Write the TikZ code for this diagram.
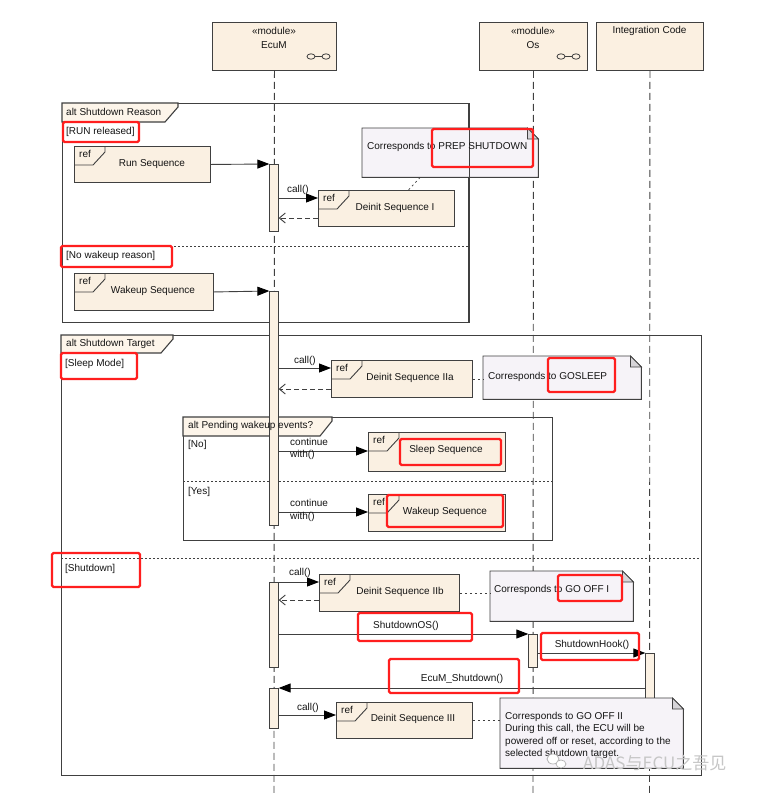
\documentclass[tikz,border=0pt]{standalone}
\usepackage{fontspec}
\setmainfont{Liberation Sans}
\newfontfamily\cjk{Noto Sans CJK SC}
\usetikzlibrary{arrows.meta}
\definecolor{headC}{HTML}{FBF0E1}
\definecolor{refC}{HTML}{FAF0E2}
\definecolor{barC}{HTML}{FBF1E3}
\definecolor{tabC}{HTML}{FDF5EA}
\definecolor{noteC}{HTML}{F6F3F8}
\definecolor{foldC}{HTML}{D6D4D8}
\definecolor{lineC}{HTML}{404040}
\definecolor{hlC}{HTML}{FF1E1E}
\definecolor{txtC}{HTML}{141414}
\newcommand{\drawnote}[1]{%
  \filldraw[draw=lineC, fill=noteC, line width=0.9pt] (#1.south west) -- (#1.north west) -- ([xshift=-11pt]#1.north east) -- ([yshift=-11pt]#1.north east) -- (#1.south east) -- cycle;
  \filldraw[draw=lineC, fill=foldC, line width=0.8pt] ([xshift=-11pt]#1.north east) -- ([xshift=-11pt,yshift=-11pt]#1.north east) -- ([yshift=-11pt]#1.north east) -- cycle;}
\newcommand{\reftab}[1]{%
  \draw[draw=lineC, line width=0.9pt] (#1.north west) ++(31,0) -- ++(0,6) -- ++(-12,13) -- ++(-19,0);
  \node[lt] at ([xshift=5pt,yshift=-8pt]#1.north west) {ref};}
\begin{document}
\begin{tikzpicture}[x=1pt,y=-1pt,
 txt/.style={font=\fontsize{10}{12.5}\selectfont, inner sep=0pt, text=txtC},
 lt/.style={txt, anchor=west},
 head/.style={draw=lineC, fill=headC, line width=0.9pt, anchor=north west, inner sep=0pt},
 refbox/.style={draw=lineC, fill=refC, line width=0.9pt, anchor=north west, inner sep=0pt},
 bar/.style={draw=lineC, fill=barC, line width=0.8pt, minimum width=8.5pt, anchor=north, inner sep=0pt},
 notebox/.style={anchor=north west, inner sep=0pt},
 framebox/.style={draw=lineC, line width=1.1pt, anchor=north west, inner sep=0pt},
 tab/.style={draw=lineC, fill=tabC, line width=1.1pt},
 lifeline/.style={draw=lineC, line width=0.9pt, dash pattern=on 7pt off 4pt},
 sep/.style={draw=lineC, line width=0.9pt, dash pattern=on 2pt off 2pt},
 msg/.style={draw=lineC, line width=0.9pt, -{Triangle[length=12pt,width=9pt,fill=black,color=black]}},
 ret/.style={draw=lineC, line width=0.9pt, dash pattern=on 5pt off 3pt, -{Straight Barb[length=6pt,width=10pt]}},
 dotc/.style={draw=lineC, line width=0.8pt, dash pattern=on 2pt off 3pt},
 hl/.style={draw=hlC, line width=2.4pt, rounded corners=1.5pt}]
\useasboundingbox (0,0) rectangle (769,796);
\fill[white] (0,0) rectangle (769,796);

% frames
\node[framebox, minimum width=406pt, minimum height=219pt] (fr1) at (62,103) {};
\filldraw[tab] (fr1.north west) -- ++(116,0) -- ++(0,4) -- ++(-13,15) -- ++(-103,0) -- cycle;
\draw[sep] (62,246) -- (468,246);
\node[framebox, minimum width=640pt, minimum height=440pt] (fr2) at (61,335) {};
\filldraw[tab] (fr2.north west) -- ++(112,0) -- ++(0,4) -- ++(-12,14) -- ++(-100,0) -- cycle;
\draw[sep] (61,558) -- (701,558);
\node[framebox, minimum width=369pt, minimum height=123pt] (fr3) at (183,417) {};
\filldraw[tab] (fr3.north west) -- ++(149,0) -- ++(0,4) -- ++(-12,15) -- ++(-137,0) -- cycle;
\draw[sep] (183,481) -- (552,481);

% lifelines
\node[head, minimum width=124pt, minimum height=48pt] (ecum) at (212,22) {};
\node[head, minimum width=108pt, minimum height=48pt] (os) at (479,22) {};
\node[head, minimum width=107pt, minimum height=48pt] (ic) at (596,22) {};
\coordinate (ecumEnd) at (274,796);
\coordinate (osEnd) at (533,796);
\coordinate (icEnd) at (649.5,796);
\draw[lifeline] (ecum.south) -- (ecumEnd);
\draw[lifeline] (os.south) -- (osEnd);
\draw[lifeline] (ic.south) -- (icEnd);
\node[txt] (ecumS) at (274,31) {«module»};
\node[txt] (ecumN) at (274,45) {EcuM};
\node[txt] (osS) at (533,31) {«module»};
\node[txt] (osN) at (533,45) {Os};
\node[txt] (icN) at (649.5,31) {Integration Code};
\draw[lineC, line width=0.8pt] (311,56.5) ellipse (4 and 2.7) (326,56.5) ellipse (4 and 2.7) (315,56.5) -- (322,56.5);
\draw[lineC, line width=0.8pt] (561,56.5) ellipse (4 and 2.7) (576,56.5) ellipse (4 and 2.7) (565,56.5) -- (572,56.5);

% activation bars
\node[bar, minimum height=67pt] (bar1) at (274,164) {};
\node[bar, minimum height=234pt] (bar2) at (274,291) {};
\node[bar, minimum height=85pt] (bar3) at (274,582) {};
\node[bar, minimum height=40pt] (bar4) at (274,688) {};
\node[bar, minimum height=33pt] (osbar) at (533,634) {};
\node[bar, minimum height=90pt] (icbar) at (650,653) {};

% ref boxes
\node[refbox, minimum width=136pt, minimum height=36pt] (runseq) at (74,146) {};
\node[refbox, minimum width=136pt, minimum height=36pt] (d1) at (318,190) {};
\node[refbox, minimum width=139pt, minimum height=37pt] (wakeseq) at (74,273) {};
\node[refbox, minimum width=141pt, minimum height=37pt] (d2a) at (331,360) {};
\node[refbox, minimum width=137pt, minimum height=39pt] (sleep) at (368,432) {};
\node[refbox, minimum width=137pt, minimum height=37pt] (wake2) at (368,494) {};
\node[refbox, minimum width=140pt, minimum height=37pt] (d2b) at (319,574) {};
\node[refbox, minimum width=136pt, minimum height=36pt] (d3) at (336,702) {};
\reftab{runseq}\reftab{d1}\reftab{wakeseq}\reftab{d2a}\reftab{sleep}\reftab{wake2}\reftab{d2b}\reftab{d3}
\node[txt] (runseqT) at (152,164) {Run Sequence};
\node[txt] (d1T) at (395,208) {Deinit Sequence I};
\node[txt] (wakeseqT) at (153,291) {Wakeup Sequence};
\node[txt] (d2aT) at (410,378) {Deinit Sequence IIa};
\node[txt] (sleepT) at (446,450) {Sleep Sequence};
\node[txt] (wake2T) at (445,512) {Wakeup Sequence};
\node[txt] (d2bT) at (400,592) {Deinit Sequence IIb};
\node[txt] (d3T) at (413,719) {Deinit Sequence III};

% notes
\node[notebox, minimum width=176pt, minimum height=49pt] (note1) at (362,128) {};
\node[notebox, minimum width=158pt, minimum height=43pt] (note2) at (483,356) {};
\node[notebox, minimum width=143pt, minimum height=50pt] (note3) at (490,571) {};
\node[notebox, minimum width=183pt, minimum height=70pt] (note4) at (500,698) {};
\drawnote{note1}\drawnote{note2}\drawnote{note3}\drawnote{note4}
\draw[lineC, line width=1.1pt] (fr1.north east) -- (fr1.south east);
\node[lt] (note1T) at (367,147) {Corresponds to PREP SHUTDOWN};
\node[lt] (note2T) at (488,377) {Corresponds to GOSLEEP};
\node[lt] (note3T) at (494,590) {Corresponds to GO OFF I};
\node[txt, anchor=north west, align=left] (note4T) at (505,712) {Corresponds to GO OFF II\\During this call, the ECU will be\\powered off or reset, according to the\\selected shutdown target.};

% connectors
\draw[msg] (runseq.east) -- (bar1.north west);
\draw[msg] (bar1.east |- 0,198) -- (d1.west |- 0,198);
\draw[ret] (d1.west |- 0,218) -- (bar1.east |- 0,218);
\draw[dotc] ([xshift=-30pt]note1.south) -- ([xshift=22pt]d1.north);
\draw[msg] (wakeseq.east) -- (bar2.north west);
\draw[msg] (bar2.east |- 0,368) -- (d2a.west |- 0,368);
\draw[ret] (d2a.west |- 0,389) -- (bar2.east |- 0,389);
\draw[dotc] (d2a.east) -- (d2a.east -| note2.west);
\draw[msg] (bar2.east |- 0,451) -- (sleep.west |- 0,451);
\draw[msg] (bar2.east |- 0,512) -- (wake2.west |- 0,512);
\draw[msg] (bar3.east |- 0,582) -- (d2b.west |- 0,582);
\draw[ret] (d2b.west |- 0,600) -- (bar3.east |- 0,600);
\draw[dotc] (d2b.east) -- (d2b.east -| note3.west);
\draw[msg] (bar3.east |- osbar.north) -- (osbar.north west);
\draw[msg] (osbar.east |- icbar.north) -- (icbar.north west);
\draw[msg] (icbar.west |- bar4.north) -- (bar4.north east);
\draw[msg] (bar4.east |- 0,715) -- (d3.west |- 0,715);
\draw[dotc] (d3.east) -- (d3.east -| note4.west);

% labels
\node[lt] (t1) at (66,112) {alt Shutdown Reason};
\node[lt] (t2) at (66,131.5) {[RUN released]};
\node[lt] (t3) at (66,256) {[No wakeup reason]};
\node[lt] (t4) at (66,343.5) {alt Shutdown Target};
\node[lt] (t5) at (65,364) {[Sleep Mode]};
\node[lt] (t6) at (188,426) {alt Pending wakeup events?};
\node[lt] (t7) at (188,445) {[No]};
\node[lt] (t8) at (188,492) {[Yes]};
\node[lt] (t9) at (65,569) {[Shutdown]};
\node[txt] (c1) at (298,190) {call()};
\node[txt] (c2) at (305,361) {call()};
\node[txt] (c3) at (300,573) {call()};
\node[txt] (c4) at (308,708) {call()};
\node[txt, anchor=west, align=left] (cw1) at (290,449) {continue\\with()};
\node[txt, anchor=west, align=left] (cw2) at (290,510.5) {continue\\with()};
\node[txt] (m1) at (406,626) {ShutdownOS()};
\node[txt] (m2) at (592,645) {ShutdownHook()};
\node[txt] (m3) at (462,679) {EcuM\_Shutdown()};

% highlight boxes
\draw[hl] (63,122) rectangle (139,142);
\draw[hl] (432,129) rectangle (533,167);
\draw[hl] (61,246) rectangle (172,267);
\draw[hl] (61,353) rectangle (137,379);
\draw[hl] (548,358) rectangle (615,392);
\draw[hl] (400,439) rectangle (501,465);
\draw[hl] (387,495) rectangle (503,527);
\draw[hl] (52,553) rectangle (140,587);
\draw[hl] (558,575) rectangle (622,601);
\draw[hl] (358,613) rectangle (472,641);
\draw[hl] (541,633) rectangle (639,660);
\draw[hl] (389,659) rectangle (519,693);

% watermark
\draw[gray!60, fill=white, line width=0.7pt] (553,759) ellipse (6 and 5);
\draw[gray!60, fill=white, line width=0.7pt] (561,764) ellipse (5 and 4);
\node[inner sep=0pt, anchor=west, text=gray!45, font=\cjk\fontsize{17}{17}\selectfont] (wm) at (583,763) {ADAS与ECU之吾见};
\end{tikzpicture}
\end{document}
